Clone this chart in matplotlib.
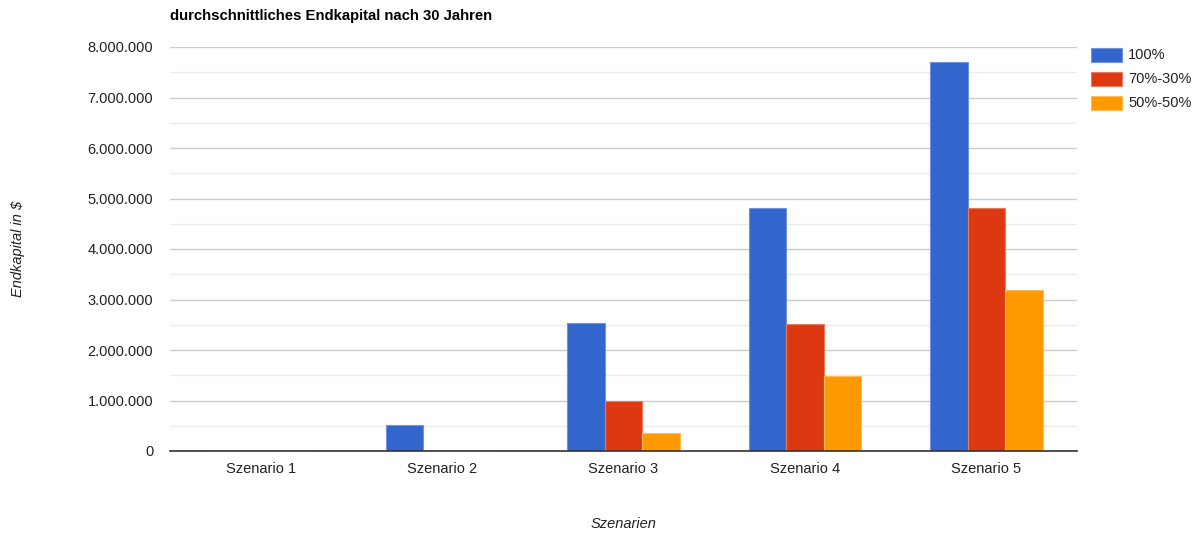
import matplotlib
matplotlib.use("Agg")
import matplotlib.pyplot as plt
import numpy as np
from matplotlib.patches import Rectangle
from matplotlib.ticker import FuncFormatter, MultipleLocator

plt.rcParams["font.family"] = ["Liberation Sans", "DejaVu Sans"]

# Chart data
categories = ["Szenario 1", "Szenario 2", "Szenario 3", "Szenario 4", "Szenario 5"]
series_names = ["100%", "70%-30%", "50%-50%"]
values_100 = [0, 520000, 2540000, 4810000, 7700000]
values_70_30 = [0, 0, 990000, 2510000, 4810000]
values_50_50 = [0, 0, 360000, 1490000, 3180000]
y_ticks = [0, 1000000, 2000000, 3000000, 4000000, 5000000, 6000000, 7000000, 8000000]

colors = ["#3366cc", "#dc3912", "#ff9900"]
edges = ["#6f93dd", "#e87a5f", "#ffbb55"]

fig = plt.figure(figsize=(12, 5.36), dpi=100)
ax = fig.add_axes([170 / 1200, 1 - 451 / 536, 907 / 1200, 404 / 536])

x = np.arange(len(categories))
bar_w = 0.207
all_series = [values_100, values_70_30, values_50_50]
for i, vals in enumerate(all_series):
    ax.bar(x + (i - 1) * bar_w, vals, width=bar_w, color=colors[i],
           edgecolor=edges[i], linewidth=0.8, zorder=3)

ax.set_xlim(-0.5, len(categories) - 0.5)
ax.set_ylim(0, 8000000)
ax.set_yticks(y_ticks)
ax.yaxis.set_minor_locator(MultipleLocator(500000))
ax.yaxis.set_major_formatter(FuncFormatter(lambda v, _: f"{int(v):,}".replace(",", ".")))
ax.set_xticks(x)
ax.set_xticklabels(categories)

ax.grid(axis="y", which="major", color="#cccccc", linewidth=1, zorder=0)
ax.grid(axis="y", which="minor", color="#ebebeb", linewidth=1, zorder=0)
ax.set_axisbelow(True)
for s in ("top", "right", "left"):
    ax.spines[s].set_visible(False)
ax.spines["bottom"].set_color("#333333")
ax.spines["bottom"].set_linewidth(1.2)
ax.spines["bottom"].set_zorder(4)
ax.tick_params(axis="both", which="both", length=0, labelsize=10.5, colors="#222222")
ax.tick_params(axis="y", pad=12)
ax.tick_params(axis="x", pad=8)

fig.text(170 / 1200, 1 - 16 / 536, "durchschnittliches Endkapital nach 30 Jahren",
         fontsize=10.7, fontweight="bold", color="#000000", ha="left", va="center")
fig.text(18 / 1200, 1 - 249 / 536, "Endkapital in $", rotation=90, style="italic",
         fontsize=10.5, color="#222222", ha="center", va="center")
fig.text(624 / 1200, 1 - 524 / 536, "Szenarien", style="italic",
         fontsize=10.5, color="#222222", ha="center", va="center")

# Legend
for i, name in enumerate(series_names):
    yc = 55 + i * 24
    fig.patches.append(Rectangle((1091 / 1200, 1 - (yc + 7) / 536), 31 / 1200, 14 / 536,
                                 transform=fig.transFigure, facecolor=colors[i],
                                 edgecolor=edges[i], linewidth=0.8))
    fig.text(1128 / 1200, 1 - yc / 536, name, fontsize=10.5, color="#222222",
             ha="left", va="center")

fig.savefig("out.png", dpi=100)
